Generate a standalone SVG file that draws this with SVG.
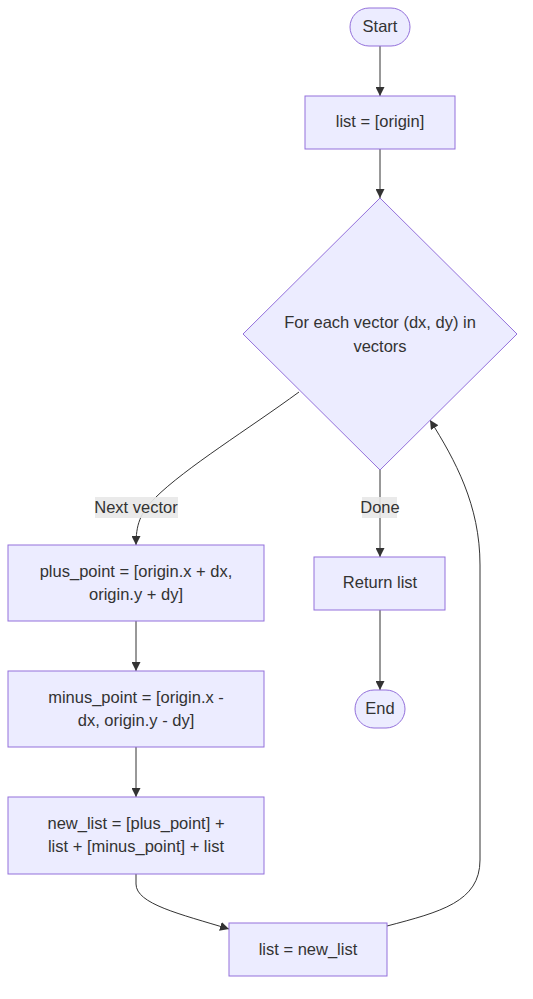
<svg xmlns="http://www.w3.org/2000/svg" width="533" height="999" viewBox="0 0 533 999">
<style>
.n{fill:#ECECFF;stroke:#9370DB;stroke-width:1}
.t{font-family:"Liberation Sans",Arial,sans-serif;font-size:16.5px;fill:#333;text-anchor:middle;dominant-baseline:central}
.e{fill:none;stroke:#333;stroke-width:1}
.lb{fill:#E8E8E8;opacity:0.9}
</style>
<defs>
<marker id="ah" viewBox="0 0 10 10" refX="10" refY="5" markerWidth="9" markerHeight="9" markerUnits="userSpaceOnUse" orient="auto">
<path d="M0,0 L10,5 L0,10 z" fill="#333"/>
</marker>
</defs>
<rect width="533" height="999" fill="#fff"/>
<g id="edges">
<path class="e" d="M380,46 L380,96" marker-end="url(#ah)"/>
<path class="e" d="M380,149 L380,198" marker-end="url(#ah)"/>
<path class="e" d="M299,392 C250,428 185,468 155,498 C140,513 136,525 136,545" marker-end="url(#ah)"/>
<path class="e" d="M380,470 L380,557" marker-end="url(#ah)"/>
<path class="e" d="M136,621 L136,671" marker-end="url(#ah)"/>
<path class="e" d="M136,747 L136,797" marker-end="url(#ah)"/>
<path class="e" d="M380,610 L380,690" marker-end="url(#ah)"/>
<path class="e" d="M136,874 L136,884 C136,904 180,914 229,929" marker-end="url(#ah)"/>
<path class="e" d="M387,926 C440,912 480,902 480,860 L480,565 C480,505 455,460 430,420" marker-end="url(#ah)"/>
<rect class="lb" x="95" y="497" width="83" height="21"/>
<text class="t" x="136" y="507">Next vector</text>
<rect class="lb" x="362" y="497" width="35" height="21"/>
<text class="t" x="380" y="507">Done</text>
</g>
<g id="start"><rect class="n" x="350" y="8" width="60" height="38" rx="19"/><text class="t" x="380" y="26">Start</text></g>
<g id="init"><rect class="n" x="305" y="96" width="150" height="53"/><text class="t" x="380" y="121">list = [origin]</text></g>
<g id="loop"><polygon class="n" points="380,198 517,334 380,470 243,334"/><text class="t" x="380" y="322">For each vector (dx, dy) in</text><text class="t" x="380" y="346">vectors</text></g>
<g id="plus"><rect class="n" x="8" y="545" width="256" height="76"/><text class="t" x="136" y="571">plus_point = [origin.x + dx,</text><text class="t" x="136" y="594">origin.y + dy]</text></g>
<g id="minus"><rect class="n" x="8" y="671" width="256" height="76"/><text class="t" x="136" y="697">minus_point = [origin.x -</text><text class="t" x="136" y="720">dx, origin.y - dy]</text></g>
<g id="newlist"><rect class="n" x="8" y="797" width="256" height="77"/><text class="t" x="136" y="823">new_list = [plus_point] +</text><text class="t" x="136" y="846">list + [minus_point] + list</text></g>
<g id="assign"><rect class="n" x="229" y="923" width="158" height="53"/><text class="t" x="308" y="949">list = new_list</text></g>
<g id="ret"><rect class="n" x="314" y="557" width="131" height="53"/><text class="t" x="380" y="582">Return list</text></g>
<g id="end"><rect class="n" x="355" y="690" width="50" height="38" rx="19"/><text class="t" x="380" y="708">End</text></g>
</svg>
